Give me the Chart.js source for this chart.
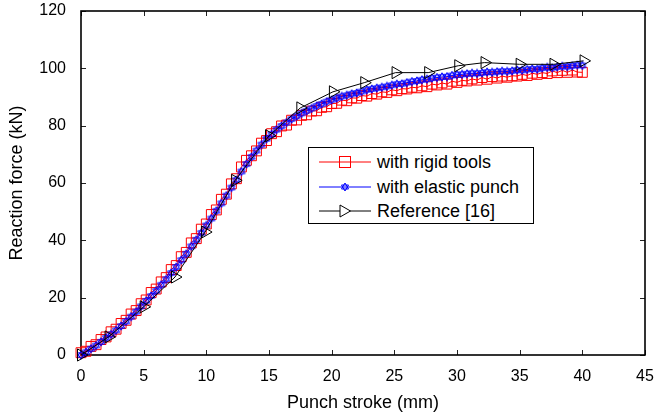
<!DOCTYPE html>
<html>
<head>
<meta charset="utf-8">
<script src="https://cdn.jsdelivr.net/npm/chart.js@4"></script>
<style>
  body { margin: 0; background: #fff; }
  #wrap { position: relative; width: 655px; height: 419px; }
  #legend {
    position: absolute; left: 308px; top: 147px; width: 224px; height: 75px;
    border: 1.5px solid #000; background: #fff;
    font-family: "Liberation Sans", Arial, sans-serif; font-size: 18px; color: #000;
  }
  .row { position: absolute; left: 10px; height: 24px; line-height: 24px; white-space: nowrap; }
  .row svg { position: absolute; left: 0; top: 2px; }
  .row span { position: absolute; left: 58px; top: 0; }
</style>
</head>
<body>
<div id="wrap">
  <canvas id="forceChart" width="655" height="419"></canvas>
  <div id="legend">
    <div class="row" style="top:2px">
      <svg width="54" height="20"><line x1="0" y1="10" x2="52" y2="10" stroke="#ff0000" stroke-width="1"/><rect x="20.5" y="4.5" width="11" height="11" fill="none" stroke="#ff0000"/></svg>
      <span>with rigid tools</span>
    </div>
    <div class="row" style="top:27px">
      <svg width="54" height="20"><line x1="0" y1="10" x2="52" y2="10" stroke="#0000ff" stroke-width="1"/><polygon points="26,6 29.5,12 22.5,12" fill="none" stroke="#0000ff"/><polygon points="26,14 29.5,8 22.5,8" fill="none" stroke="#0000ff"/></svg>
      <span>with elastic punch</span>
    </div>
    <div class="row" style="top:51px">
      <svg width="54" height="20"><line x1="0" y1="10" x2="52" y2="10" stroke="#000" stroke-width="1"/><polygon points="21,4 31.5,10 21,16" fill="#fff" stroke="#000"/></svg>
      <span>Reference [16]</span>
    </div>
  </div>
</div>
<script>
// punch stroke (mm) shared by the two simulated curves
const stroke = [0, 0.4, 0.8, 1.2, 1.6, 2, 2.4, 2.8, 3.2, 3.6, 4, 4.4, 4.8, 5.2, 5.6, 6, 6.4, 6.8, 7.2, 7.6,
  8, 8.4, 8.8, 9.2, 9.6, 10, 10.4, 10.8, 11.2, 11.6, 12, 12.4, 12.8, 13.2, 13.6, 14, 14.4, 14.8, 15.2, 15.6,
  16, 16.4, 16.8, 17.2, 17.6, 18, 18.4, 18.8, 19.2, 19.6, 20, 20.4, 20.8, 21.2, 21.6, 22, 22.4, 22.8, 23.2, 23.6,
  24, 24.4, 24.8, 25.2, 25.6, 26, 26.4, 26.8, 27.2, 27.6, 28, 28.4, 28.8, 29.2, 29.6, 30, 30.4, 30.8, 31.2, 31.6,
  32, 32.4, 32.8, 33.2, 33.6, 34, 34.4, 34.8, 35.2, 35.6, 36, 36.4, 36.8, 37.2, 37.6, 38, 38.4, 38.8, 39.2, 39.6, 40];

const rigidForce = [0.8, 1.3, 3.0, 3.6, 5.4, 6.3, 8.1, 9.0, 11.0, 12.1, 14.3, 15.5, 17.9, 19.2, 21.8, 23.0, 25.5, 27.0, 29.8, 31.2,
  34.3, 35.8, 39.1, 40.6, 43.9, 45.7, 49.0, 50.6, 54.3, 56.1, 59.7, 61.5, 65.6, 67.9, 69.5, 71.2, 73.9, 74.8, 77.2, 77.9,
  79.9, 80.2, 81.9, 82.0, 83.6, 83.8, 85.1, 85.2, 86.4, 86.6, 87.7, 87.8, 88.9, 88.7, 89.7, 89.6, 90.5, 90.3, 91.2, 91.0,
  91.8, 91.6, 92.5, 92.2, 92.9, 92.8, 93.4, 93.2, 93.9, 93.6, 94.5, 94.2, 94.9, 94.5, 95.5, 95.1, 95.8, 95.6, 96.3, 95.9,
  96.8, 96.2, 97.1, 96.6, 97.3, 96.9, 97.4, 97.3, 97.9, 97.5, 98.3, 97.9, 98.5, 98.2, 99.1, 98.5, 99.3, 98.6, 99.4, 98.7, 98.6];

const elasticForce = [0, 1.0, 2.2, 3.3, 4.6, 6.0, 7.2, 8.6, 10.1, 11.7, 13.4, 15.1, 17.0, 18.9, 20.6, 22.4, 24.5, 26.4, 28.6, 30.7,
  33.1, 35.3, 37.9, 40.2, 42.6, 45.2, 47.6, 50.3, 52.9, 55.6, 58.4, 61.1, 64.0, 66.6, 69.1, 71.3, 73.4, 75.4, 77.0, 78.6,
  79.9, 81.1, 82.3, 83.3, 84.3, 85.2, 86.0, 86.9, 87.6, 88.4, 89.0, 89.6, 90.2, 90.6, 91.1, 91.4, 91.9, 92.5, 92.8, 93.1,
  93.4, 93.7, 94.1, 94.5, 94.6, 95.0, 95.4, 95.6, 96.0, 96.2, 96.6, 96.8, 97.0, 97.1, 97.5, 97.8, 97.9, 98.1, 98.3, 98.2,
  98.4, 98.7, 98.6, 98.8, 99.0, 98.9, 99.1, 99.4, 99.3, 99.6, 99.8, 99.7, 100.1, 100.3, 100.2, 100.5, 100.7, 100.6, 100.9, 101.1, 101.0];

// Reference [16]
const refStroke = [0, 2.2, 5.0, 7.5, 9.9, 12.3, 15.0, 17.5, 20.1, 22.6, 25.1, 27.7, 30.1, 32.2, 35.0, 37.7, 40.1];
const refForce = [0, 6.3, 16.8, 27.2, 42.9, 60.9, 76.5, 86.2, 91.8, 95.0, 98.5, 98.5, 100.9, 102.0, 101.4, 101.4, 102.6];

const xTicks = [0, 5, 10, 15, 20, 25, 30, 35, 40, 45];
const yTicks = [0, 20, 40, 60, 80, 100, 120];

const FONT = '"Liberation Sans", Arial, sans-serif';

function pairs(xs, ys) {
  return xs.map((x, i) => ({ x: x, y: ys[i] }));
}

// keep the plot box where the original has it
function noScalePadding(s) {
  s.paddingTop = 0; s.paddingBottom = 0; s.paddingLeft = 0; s.paddingRight = 0;
}

// six-pointed star marker for the elastic punch curve
function hexagram(color) {
  const c = document.createElement('canvas');
  c.width = 10; c.height = 10;
  const g = c.getContext('2d');
  g.strokeStyle = color;
  g.lineWidth = 1;
  [0, Math.PI].forEach(function (off) {
    g.beginPath();
    for (let k = 0; k < 3; k++) {
      const a = off + k * 2 * Math.PI / 3;
      const px = 5 + Math.sin(a) * 4.2, py = 5 - Math.cos(a) * 4.2;
      if (k === 0) g.moveTo(px, py); else g.lineTo(px, py);
    }
    g.closePath();
    g.stroke();
  });
  return c;
}

// box around the plot with inward ticks on all four sides
const frameTicks = {
  id: 'frameTicks',
  beforeDatasetsDraw(chart) {
    const { ctx, chartArea: a, scales } = chart;
    ctx.save();
    ctx.strokeStyle = '#222';
    ctx.lineWidth = 1;
    xTicks.forEach(function (v) {
      const px = Math.round(scales.x.getPixelForValue(v)) + 0.5;
      ctx.beginPath();
      ctx.moveTo(px, a.bottom); ctx.lineTo(px, a.bottom - 5);
      ctx.moveTo(px, a.top); ctx.lineTo(px, a.top + 5);
      ctx.stroke();
    });
    yTicks.forEach(function (v) {
      const py = Math.round(scales.y.getPixelForValue(v)) + 0.5;
      ctx.beginPath();
      ctx.moveTo(a.left, py); ctx.lineTo(a.left + 5, py);
      ctx.moveTo(a.right, py); ctx.lineTo(a.right - 5, py);
      ctx.stroke();
    });
    ctx.strokeStyle = '#000';
    ctx.lineWidth = 1.6;
    ctx.strokeRect(a.left, a.top, a.right - a.left, a.bottom - a.top);
    ctx.restore();
  }
};

new Chart(document.getElementById('forceChart'), {
  type: 'line',
  data: {
    datasets: [
      {
        label: 'with rigid tools',
        data: pairs(stroke, rigidForce),
        borderColor: '#ff0000',
        borderWidth: 1,
        pointStyle: 'rect',
        pointRadius: 7,
        pointBorderWidth: 1,
        pointBorderColor: '#ff0000',
        pointBackgroundColor: 'rgba(0,0,0,0)',
        clip: false,
        order: 3
      },
      {
        label: 'with elastic punch',
        data: pairs(stroke, elasticForce),
        borderColor: '#0000ff',
        borderWidth: 1,
        pointStyle: hexagram('#0000ff'),
        pointRadius: 4,
        clip: false,
        order: 2
      },
      {
        label: 'Reference [16]',
        data: pairs(refStroke, refForce),
        borderColor: '#000',
        borderWidth: 1,
        pointStyle: 'triangle',
        pointRotation: 90,
        pointRadius: 7,
        pointBorderWidth: 1,
        pointBorderColor: '#000',
        pointBackgroundColor: 'rgba(0,0,0,0)',
        clip: false,
        order: 1
      }
    ]
  },
  options: {
    responsive: false,
    animation: false,
    layout: { autoPadding: false, padding: { left: 0, top: 11, right: 10, bottom: 0 } },
    plugins: { legend: { display: false }, tooltip: { enabled: false } },
    scales: {
      x: {
        type: 'linear',
        min: 0, max: 45,
        afterFit: function (s) { s.height = 64; noScalePadding(s); },
        afterBuildTicks: function (s) { s.ticks = xTicks.map(v => ({ value: v })); },
        grid: { display: false, drawTicks: false },
        border: { display: false },
        ticks: { padding: 12, color: '#000', font: { family: FONT, size: 16 } },
        title: {
          display: true, text: 'Punch stroke (mm)', color: '#000',
          font: { family: FONT, size: 18 }, padding: { top: 0, bottom: 5 }
        }
      },
      y: {
        min: 0, max: 120,
        afterFit: function (s) { s.width = 81; noScalePadding(s); },
        afterBuildTicks: function (s) { s.ticks = yTicks.map(v => ({ value: v })); },
        grid: { display: false, drawTicks: false },
        border: { display: false },
        ticks: { padding: 15, color: '#000', font: { family: FONT, size: 16 } },
        title: {
          display: true, text: 'Reaction force (kN)', color: '#000',
          font: { family: FONT, size: 18 }, padding: { top: 6, bottom: 0 }
        }
      }
    }
  },
  plugins: [frameTicks]
});
</script>
</body>
</html>
